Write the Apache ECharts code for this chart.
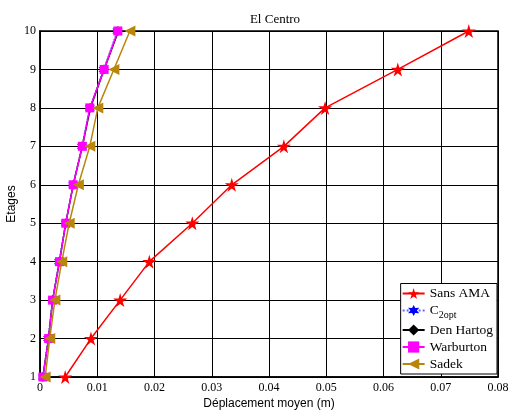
<!DOCTYPE html>
<html><head><meta charset="utf-8">
<script src="https://cdn.jsdelivr.net/npm/echarts@6/dist/echarts.min.js"></script>
<style>html,body{margin:0;padding:0;background:#fff}#c{width:511px;height:413px}</style>
</head><body><div id="c"></div>
<script>
const etages = [1,2,3,4,5,6,7,8,9,10];
const sansAMA   = [0.0044,0.0089,0.0140,0.0191,0.0266,0.0335,0.0426,0.0498,0.0625,0.0749];
const c2opt     = [0.0005,0.0014,0.0022,0.0033,0.0045,0.0058,0.0073,0.0087,0.0111,0.0135];
const denHartog = [0.0005,0.0015,0.0022,0.0034,0.0045,0.0058,0.0074,0.0088,0.0112,0.0137];
const warburton = [0.0005,0.0015,0.0022,0.0034,0.0045,0.0058,0.0074,0.0087,0.0112,0.0136];
const sadek     = [0.0009,0.0017,0.0026,0.0038,0.0051,0.0067,0.0087,0.0101,0.0129,0.0157];
const xTicks = [0,0.01,0.02,0.03,0.04,0.05,0.06,0.07,0.08];

const star = 'path://M50,0 L61,35 L98,35 L68,57 L79,91 L50,70 L21,91 L32,57 L2,35 L39,35 Z';
const hexstar = 'path://M50,0 L62,28 L93,25 L75,50 L93,75 L62,72 L50,100 L38,72 L7,75 L25,50 L7,25 L38,28 Z';
const triLeft = 'path://M0,50 L100,0 L100,100 Z';

function pairs(xs){ return xs.map((v,i)=>[v, etages[i]]); }
const serif = 'Liberation Serif';

const chart = echarts.init(document.getElementById('c'), null, {renderer:'canvas'});
chart.setOption({
  animation:false,
  backgroundColor:'#fff',
  title:{text:'El Centro', left:270, top:8, textAlign:'center',
    textStyle:{fontFamily:serif, fontSize:13, fontWeight:'normal', color:'#000'}},
  grid:{left:40, right:13, top:31, bottom:36, show:true, borderColor:'#000', borderWidth:1.5,
    containLabel:false, outerBoundsMode:'none'},
  xAxis:{type:'value', min:0, max:0.08, interval:0.01,
    name:'Déplacement moyen (m)', nameLocation:'middle', nameGap:21, nameMoveOverlap:false,
    nameTextStyle:{fontFamily:'Liberation Sans', fontSize:12, color:'#000'},
    axisLine:{show:true, lineStyle:{color:'#000', width:1.5}},
    axisTick:{show:true, inside:true, length:4, lineStyle:{color:'#000'}},
    axisLabel:{fontFamily:serif, fontSize:12, color:'#000', margin:5,
      formatter:v=>{ const i = xTicks.findIndex(t=>Math.abs(t-v)<1e-9); return i===0?'0':xTicks[i].toFixed(2);} },
    splitLine:{show:true, lineStyle:{color:'#000', width:1}}},
  yAxis:{type:'value', min:1, max:10, interval:1,
    name:'Etages', nameLocation:'middle', nameGap:22, nameMoveOverlap:false,
    nameTextStyle:{fontFamily:'Liberation Sans', fontSize:12, color:'#000'},
    axisLine:{show:true, lineStyle:{color:'#000', width:1.5}},
    axisTick:{show:true, inside:true, length:4, lineStyle:{color:'#000'}},
    axisLabel:{fontFamily:serif, fontSize:12, color:'#000', margin:4},
    splitLine:{show:true, lineStyle:{color:'#000', width:1}}},
  legend:{orient:'vertical', right:14, bottom:39, backgroundColor:'#fff',
    borderColor:'#000', borderWidth:1, padding:[3,4,3,1], itemGap:3,
    itemWidth:22, itemHeight:14, itemTextGap:2,
    textStyle:{fontFamily:serif, fontSize:13.5, color:'#000',
      rich:{sub:{fontFamily:serif, fontSize:10, color:'#000', verticalAlign:'bottom', padding:[9,0,0,0]}}},
    formatter:n=> n==='C2opt' ? 'C{sub|2opt}' : n,
    data:['Sans AMA','C2opt','Den Hartog','Warburton','Sadek']},
  series:[
    {name:'Sans AMA', type:'line', data:pairs(sansAMA), symbol:star, symbolSize:14,
      lineStyle:{color:'#ff0000', width:1.5}, itemStyle:{color:'#ff0000'}, z:2},
    {name:'C2opt', type:'line', data:pairs(c2opt), symbol:hexstar, symbolSize:10,
      lineStyle:{color:'#6666ff', width:1.5, type:'dotted'}, itemStyle:{color:'#0000ff'}, z:3},
    {name:'Den Hartog', type:'line', data:pairs(denHartog), symbol:'diamond', symbolSize:9,
      lineStyle:{color:'#000', width:1.5}, itemStyle:{color:'#000'}, z:4},
    {name:'Warburton', type:'line', data:pairs(warburton), symbol:'rect', symbolSize:9,
      lineStyle:{color:'#ff00ff', width:1.5}, itemStyle:{color:'#ff00ff'}, z:5},
    {name:'Sadek', type:'line', data:pairs(sadek), symbol:triLeft, symbolSize:11,
      lineStyle:{color:'#b8860b', width:1.5}, itemStyle:{color:'#b8860b'}, z:6}
  ]
});
</script></body></html>
